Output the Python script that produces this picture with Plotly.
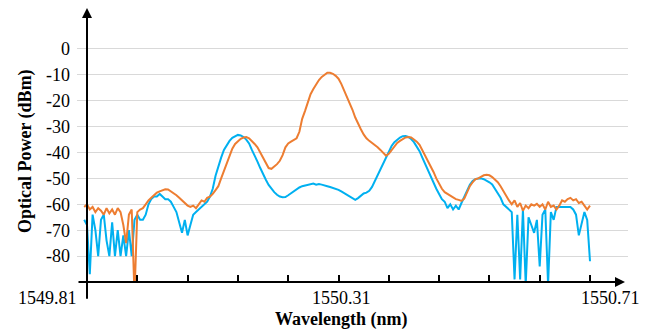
import numpy as np
import plotly.graph_objects as go

# Wavelength sampling grid (nm)
wavelength = np.round(1549.805 + 0.005 * np.arange(182), 3)

blue_dbm = [
    -66, -68, -87, -64, -70, -80, -66, -64, -74, -80,
    -67, -80, -70, -80, -72, -80, -70, -80, -66, -64,
    -66, -66, -64, -60, -58, -57, -57, -56, -57, -58,
    -58, -59, -61, -63, -67, -71, -66, -72, -68, -64,
    -63, -62, -61, -60, -59, -57, -54, -49, -45, -42,
    -39, -37, -35.5, -34.3, -33.6, -33.2, -33.4, -34, -35, -36.5,
    -39, -41, -43.5, -46, -48.5, -50.5, -52.5, -54, -55.3, -56.3,
    -57, -57.3, -57.2, -56.5, -55.7, -55, -54.2, -53.5, -53, -52.7,
    -52.5, -52.3, -52, -52.4, -52.2, -52.4, -52.6, -53, -53.3, -53.6,
    -54, -54.4, -55, -55.7, -56.4, -57.2, -57.8, -58.3, -57.6, -56.5,
    -55.8, -55.5, -54.8, -53.3, -51, -48.5, -46.5, -44, -41.5, -39.5,
    -37.5, -36, -35, -34.2, -33.7, -33.6, -34, -34.8, -36, -37.5,
    -39.5, -42, -44.5, -47, -49.5, -52, -54, -56, -58, -59,
    -61.5, -60, -62, -60.5, -62, -59.5, -57, -54.5, -52.5, -51,
    -50.3, -50, -50, -50.3, -50.8, -51.5, -52.3, -54, -55.5, -57.5,
    -60, -61, -62, -63, -89, -64, -89, -62, -91, -65,
    -68, -71, -66, -84, -64, -62, -91, -63, -66, -61,
    -61, -61, -60.8, -61, -61, -62, -64, -72, -68, -63,
    -66, -82,
]

orange_dbm = [
    -61, -60, -62, -61, -63, -61.5, -62.5, -64, -61.5, -63.5,
    -62, -64, -61.5, -63, -68, -75, -64, -62, -95, -63,
    -62, -61.5, -60, -58.5, -57.5, -56.5, -55.5, -55, -54.5, -54.2,
    -54.3, -55, -55.8, -56.5, -57.5, -58.5, -59.5, -60.5, -61, -60.5,
    -61.5, -60, -58.5, -59, -57.5, -57, -56, -54.5, -53, -50,
    -47, -43.7, -41, -38.5, -36.7, -35.5, -34.7, -34.2, -34, -34.5,
    -35.5, -36.7, -38, -40, -42, -44.5, -46, -46.3, -45.5, -44.5,
    -43.2, -41, -38, -36.5, -35.8, -35.2, -34.5, -32, -27, -24,
    -20.5, -17.5, -15.5, -13.5, -12, -10.8, -9.8, -9.2, -9.2, -9.6,
    -10.4, -11.5, -13.5, -16, -18, -20.5, -23.5, -26.5, -29, -31,
    -33, -34.5, -35.5, -36.3, -37, -38, -39, -40.3, -41.2, -40.5,
    -39, -37.5, -36.3, -35.5, -34.7, -34.2, -34, -34.2, -35, -35.8,
    -37, -39, -41.5, -43.5, -45.5, -47.5, -50, -52, -54, -55.3,
    -56, -56.5, -57.3, -58, -58.3, -58.7, -57.8, -55.5, -53, -51.5,
    -50.3, -50, -49.3, -48.8, -48.6, -48.8, -49.5, -50.5, -51.5, -53,
    -55, -57, -58.5, -60, -58.5, -61, -59.5, -62.5, -60.5, -61.5,
    -60, -60.5, -59.8, -61, -60, -62, -59, -61, -60.5, -62,
    -60.5, -58.5, -59, -58, -57.5, -58.5, -58, -59.5, -59, -60.5,
    -62, -60.5,
]

y_ticks = [0, -10, -20, -30, -40, -50, -60, -70, -80]
x_tick_marks = [round(1549.81 + 0.09 * k, 2) for k in range(1, 11)]
x_tick_labels = ["1549.81", "1550.31", "1550.71"]

FONT = "Liberation Serif"
x0, x_end = 1549.81, 1550.71
x_mid = 1550.2653
x_left, x_right = 1549.7921, 1550.778
y_bottom, y_top = -90, 15.8

fig = go.Figure()
fig.add_trace(go.Scatter(x=wavelength, y=blue_dbm, mode="lines",
                         line=dict(color="#00b0f0", width=2)))
fig.add_trace(go.Scatter(x=wavelength, y=orange_dbm, mode="lines",
                         line=dict(color="#ed7d31", width=2)))

fig.update_layout(
    width=667, height=333,
    margin=dict(l=69, r=47, t=0, b=59),
    paper_bgcolor="white", plot_bgcolor="white",
    showlegend=False,
    font=dict(family=FONT, size=18, color="black"),
    xaxis=dict(range=[x_left, x_right], showgrid=False, zeroline=False,
               showline=False, tickmode="array", tickvals=x_tick_marks,
               ticks="inside", ticklen=7, tickwidth=2, tickcolor="black",
               showticklabels=False, automargin=False),
    yaxis=dict(range=[y_bottom, y_top], showgrid=True, gridcolor="#d9d9d9",
               gridwidth=1, zeroline=False, showline=False,
               tickmode="array", tickvals=y_ticks,
               ticktext=[str(v) for v in y_ticks], ticks="",
               ticklabelstandoff=6, automargin=False,
               tickfont=dict(family=FONT, size=18, color="black")),
)

# axes with arrows
fig.add_annotation(x=x0, y=y_top, ax=x0, ay=-97, xref="x", yref="y",
                   axref="x", ayref="y", showarrow=True, arrowhead=2,
                   arrowsize=1, arrowwidth=2, arrowcolor="black", text="",
                   standoff=0)
fig.add_annotation(x=1550.7726, y=y_bottom, ax=x_left, ay=y_bottom,
                   xref="x", yref="y", axref="x", ayref="y", showarrow=True,
                   arrowhead=2, arrowsize=1, arrowwidth=2, arrowcolor="black",
                   text="", standoff=0)

# x tick labels
fig.add_annotation(x=x0, y=0, xref="x", yref="paper", text=x_tick_labels[0],
                   showarrow=False, xanchor="right", yanchor="middle",
                   xshift=-8, yshift=-16, font=dict(family=FONT, size=18))
fig.add_annotation(x=x_mid, y=0, xref="x", yref="paper", text=x_tick_labels[1],
                   showarrow=False, xanchor="center", yanchor="middle",
                   yshift=-16, font=dict(family=FONT, size=18))
fig.add_annotation(x=x_end, y=0, xref="x", yref="paper", text=x_tick_labels[2],
                   showarrow=False, xanchor="left", yanchor="middle",
                   xshift=-11, yshift=-16, font=dict(family=FONT, size=18))

# axis titles
fig.add_annotation(x=x_mid, y=0, xref="x", yref="paper",
                   text="<b>Wavelength (nm)</b>", showarrow=False,
                   xanchor="center", yanchor="middle", yshift=-37,
                   font=dict(family=FONT, size=18))
fig.add_annotation(x=0, y=0.478, xref="paper", yref="paper",
                   text="<b>Optical Power (dBm)</b>", showarrow=False,
                   textangle=-90, xanchor="center", yanchor="middle",
                   xshift=-52, font=dict(family=FONT, size=18))

fig.write_html("out.html")
